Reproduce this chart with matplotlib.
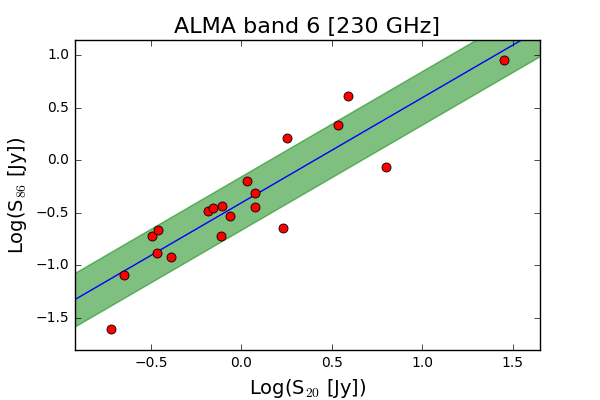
import matplotlib
matplotlib.use("Agg")
import matplotlib.pyplot as plt
import numpy as np

plt.style.use('classic')

# Log fluxes
log_s20 = [-0.723, -0.649, -0.494, -0.461, -0.469, -0.390, -0.185, -0.157,
           -0.108, -0.113, -0.064, 0.030, 0.075, 0.075, 0.229, 0.250,
           0.533, 0.588, 0.797, 1.450]
log_s86 = [-1.604, -1.092, -0.718, -0.664, -0.880, -0.918, -0.480, -0.451,
           -0.435, -0.721, -0.530, -0.194, -0.310, -0.442, -0.642, 0.215,
           0.336, 0.615, -0.061, 0.949]

# fit line and scatter band
slope = 1.0
intercept = -0.405
scatter = 0.255

fig = plt.figure(figsize=(6, 4), dpi=100, facecolor='white')
ax = fig.add_subplot(111)
fig.subplots_adjust(left=0.125, right=0.9, bottom=0.125, top=0.9)

xx = np.linspace(-1.0, 1.8, 50)
yy = slope * xx + intercept
ax.fill_between(xx, yy - scatter, yy + scatter, color='green', alpha=0.5)
ax.plot(xx, yy, 'b-', lw=1)
ax.plot(log_s20, log_s86, 'o', color='red', mec='black', mew=0.6, ms=6.5)

ax.set_xlim(-0.92, 1.65)
ax.set_ylim(-1.805, 1.143)
ax.set_xticks([-0.5, 0.0, 0.5, 1.0, 1.5])
ax.set_yticks([-1.5, -1.0, -0.5, 0.0, 0.5, 1.0])
ax.tick_params(labelsize=10)

ax.set_title("ALMA band 6 [230 GHz]", fontsize=16)
ax.set_xlabel(r"Log(S$_{20}$ [Jy])", fontsize=14)
ax.set_ylabel(r"Log(S$_{86}$ [Jy])", fontsize=14)

plt.savefig("out.png", dpi=100, facecolor='white')
plt.close()
